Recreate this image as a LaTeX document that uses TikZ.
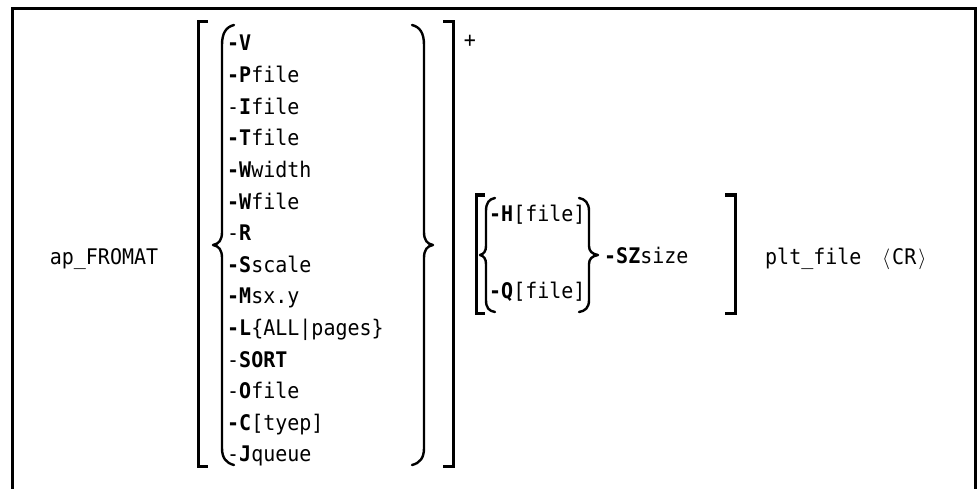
\documentclass[tikz,border=0pt]{standalone}
\usepackage{fontspec}
\setmonofont[FakeStretch=0.93]{DejaVu Sans Mono}
\usepackage{xcolor}
\definecolor{cInk}{HTML}{000000}
\usepackage{tikz}
\usetikzlibrary{positioning}
\tikzset{
  opt-item/.style={anchor=west,inner sep=0pt,text height=16pt,text depth=0pt,
    text=cInk,font=\ttfamily\fontsize{21.5}{26}\selectfont},
  opt-next/.style={below=15.2pt of #1.south west,anchor=north west},
  frame-line/.style={draw=cInk,line width=3pt},
  bracket-line/.style={draw=cInk,line width=3pt},
  brace-line/.style={draw=cInk,line width=2.4pt,line cap=round,line join=round},
}
\newcommand{\optkey}[1]{\textbf{#1}}

\begin{document}
\begin{tikzpicture}[x=1pt,y=-1pt]
  \useasboundingbox (0,0) rectangle (979,489);
  \draw[frame-line] (12,489) -- (12,9) -- (975,9) -- (975,489);
  \node[opt-item,anchor=center] (cmd) at (104,256) {ap\_FROMAT};
  % first option group
  \node[opt-item] (optV) at (227,43) {\optkey{-V}};
  \node[opt-item,opt-next=optV] (optP) {\optkey{-P}file};
  \node[opt-item,opt-next=optP] (optI) {-\optkey{I}file};
  \node[opt-item,opt-next=optI] (optT) {\optkey{-T}file};
  \node[opt-item,opt-next=optT] (optWw) {\optkey{-W}width};
  \node[opt-item,opt-next=optWw] (optWf) {\optkey{-W}file};
  \node[opt-item,opt-next=optWf] (optR) {-\optkey{R}};
  \node[opt-item,opt-next=optR] (optS) {\optkey{-S}scale};
  \node[opt-item,opt-next=optS] (optM) {\optkey{-M}sx.y};
  \node[opt-item,opt-next=optM] (optL) {\optkey{-L}\{ALL|pages\}};
  \node[opt-item,opt-next=optL] (optSort) {-\optkey{SORT}};
  \node[opt-item,opt-next=optSort] (optO) {-\optkey{O}file};
  \node[opt-item,opt-next=optO] (optC) {\optkey{-C}[tyep]};
  \node[opt-item,opt-next=optC] (optJ) {-\optkey{J}queue};
  \draw[bracket-line] (208,22) -- (198,22) -- (198,466) -- (208,466);
  \draw[bracket-line] (443,22) -- (453,22) -- (453,466) -- (443,466);
  \draw[brace-line] (234,25) .. controls (226,27) and (222,33) .. (222,45)
    -- (222,232) .. controls (222,240) and (219,244) .. (213,245)
    .. controls (219,246) and (222,250) .. (222,258)
    -- (222,448) .. controls (222,458) and (226,463) .. (234,465);
  \draw[brace-line] (412,25) .. controls (420,27) and (424,33) .. (424,45)
    -- (424,232) .. controls (424,240) and (427,244) .. (433,245)
    .. controls (427,246) and (424,250) .. (424,258)
    -- (424,448) .. controls (424,458) and (420,463) .. (412,465);
  \node[opt-item,anchor=center] (plus) at (470,40) {+};
  % second option group
  \node[opt-item] (optH) at (489,213) {\optkey{-H}[file]};
  \node[opt-item] (optQ) at (489,290) {\optkey{-Q}[file]};
  \node[opt-item] (optSZ) at (604,255) {\optkey{-SZ}size};
  \draw[bracket-line] (485,195) -- (476,195) -- (476,313) -- (485,313);
  \draw[bracket-line] (725,195) -- (735,195) -- (735,313) -- (725,313);
  \draw[brace-line] (495,198) .. controls (489,199) and (486,203) .. (486,211)
    -- (486,246) .. controls (486,251) and (484,254) .. (480,255)
    .. controls (484,256) and (486,259) .. (486,264)
    -- (486,300) .. controls (486,308) and (489,311) .. (495,312);
  \draw[brace-line] (579,198) .. controls (585,199) and (589,203) .. (589,211)
    -- (589,246) .. controls (589,251) and (592,254) .. (598,255)
    .. controls (592,256) and (589,259) .. (589,264)
    -- (589,300) .. controls (589,308) and (585,311) .. (579,312);
  \node[opt-item] (plt) at (765,256) {plt\_file};
  \node[opt-item] (cr) at (880,256) {\makebox[12pt]{$\langle$}CR\makebox[12pt]{$\rangle$}};
\end{tikzpicture}
\end{document}
